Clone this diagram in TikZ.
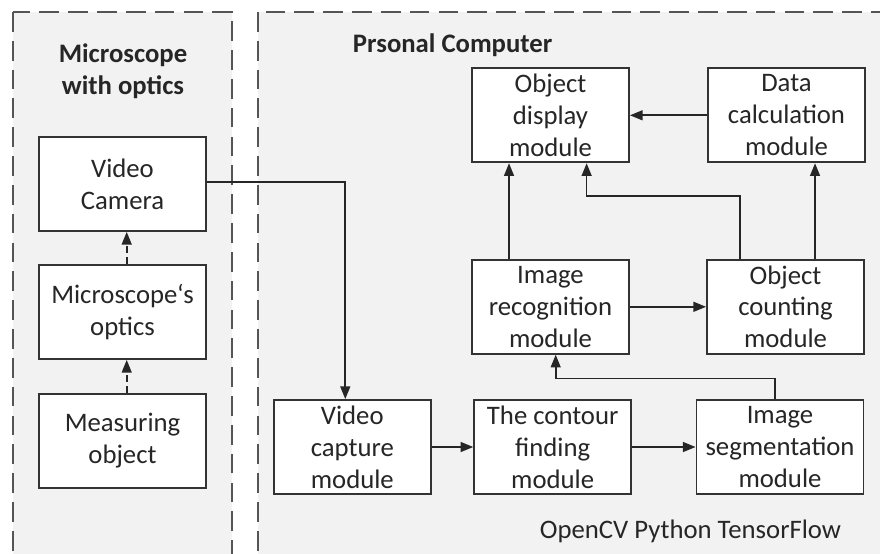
\documentclass[tikz,border=0pt]{standalone}
\usepackage{fontspec}
\setmainfont{Carlito}
\usetikzlibrary{arrows.meta,positioning,calc}
\definecolor{panelgray}{HTML}{F2F2F2}
\definecolor{dashgray}{HTML}{555555}
\definecolor{boxline}{HTML}{333333}

\tikzset{
  module/.style={draw=boxline, line width=1.3pt, fill=white, align=center,
    minimum width=157*0.025cm, minimum height=94*0.025cm, inner sep=0pt,
    font=\fontsize{19}{22.7}\selectfont, text=black!85},
  panel/.style={draw=dashgray, fill=panelgray, line width=1.3pt, dash pattern=on 14pt off 6.5pt},
  link/.style={line width=1.2pt, draw=black!85, -{Triangle[length=9pt,width=7pt]}},
  title/.style={font=\fontsize{19}{22.7}\selectfont\bfseries, text=black!85, align=center}
}

\begin{document}
\begin{tikzpicture}[x=0.025cm, y=-0.025cm]
\useasboundingbox (0,0) rectangle (880,553);
\fill[white] (0,0) rectangle (880,553);
\begin{scope}
\clip (0,0) rectangle (880,553);
\draw[panel] (13,12) rectangle (232,580);
\draw[panel] (258,12) rectangle (900,580);
\end{scope}

\node[title] (leftitle) at (123,71) {Microscope\\with optics};
\node[title, anchor=west] (rightitle) at (348,45) {Prsonal Computer};

\node[module, minimum width=167*0.025cm] (camera) at (122.5,184) {Video\\Camera};
\node[module, minimum width=167*0.025cm] (optics) at (122.5,312) {Microscope‘s\\optics};
\node[module, minimum width=167*0.025cm] (object) at (122.5,441) {Measuring\\object};

\node[module] (display) at (550.5,115.3) {Object\\display\\module};
\node[module] (datacalc) at (786.5,115.3) {Data\\calculation\\module};
\node[module] (recog) at (550.5,306.8) {Image\\recognition\\module};
\node[module] (counting) at (785.5,306.8) {Object\\counting\\module};
\node[module] (capture) at (352.3,447) {Video\\capture\\module};
\node[module] (contour) at (552.7,447) {The contour\\finding\\module};
\node[module, minimum width=167*0.025cm] (segment) at (780,447) {Image\\segmentation\\module};

\node[font=\fontsize{19}{22.7}\selectfont, text=black!85] (tools) at (690.5,531) {OpenCV Python TensorFlow};

\draw[link, dashed, dash pattern=on 5pt off 3pt] ([xshift=3pt]object.north) -- ([xshift=3pt]optics.south);
\draw[link, dashed, dash pattern=on 5pt off 3pt] ([xshift=3pt]optics.north) -- ([xshift=3pt]camera.south);

\draw[link] ([yshift=1.4pt]camera.east) -| ([xshift=-5pt]capture.north);
\draw[link] (capture) -- (contour);
\draw[link] (contour) -- (segment);
\draw[link] ([xshift=-3.5pt]segment.north) -- ++(0,-20.7) -| ([xshift=3.7pt]recog.south);
\draw[link] (recog) -- (counting);
\draw[link] ([xshift=-29.5pt]recog.north) -- ([xshift=-29.5pt]recog.north |- display.south);
\draw[link] ([xshift=-32.3pt]counting.north) -- ++(0,-62.6) -| ([xshift=25.7pt]display.south);
\draw[link] ([xshift=21pt]counting.north) -- ([xshift=21pt]counting.north |- datacalc.south);
\draw[link] (datacalc) -- (display);
\end{tikzpicture}
\end{document}
